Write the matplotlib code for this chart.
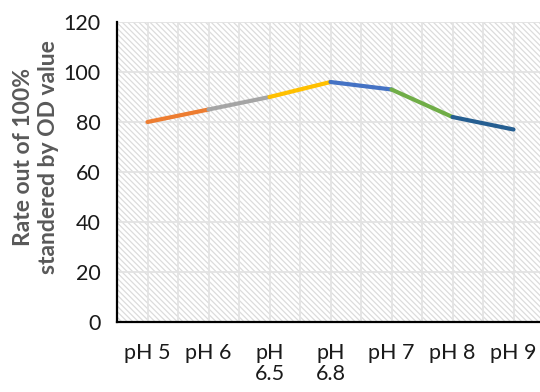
import matplotlib
matplotlib.use('Agg')
from matplotlib import pyplot as plt
from matplotlib.patches import Rectangle

# DATA
categories = ['pH 5', 'pH 6', 'pH\n6.5', 'pH\n6.8', 'pH 7', 'pH 8', 'pH 9']
rate = [80, 85, 90, 96, 93, 82, 77]
y_ticks = [0, 20, 40, 60, 80, 100, 120]

# STYLE
SEGMENT_COLORS = ['#ED7D31', '#A5A5A5', '#FFC000', '#4472C4', '#70AD47', '#255E91']
GRID = '#E3E3E3'
HATCH = '#DCDCDC'
plt.rcParams['font.family'] = ['Lato', 'DejaVu Sans']
plt.rcParams['hatch.linewidth'] = 0.9

fig = plt.figure(figsize=(5.4, 3.92), dpi=100)
ax = fig.add_axes([117 / 540, 70 / 392, 427 / 540, 300 / 392])

# hatched plot background
ax.add_patch(Rectangle((0, 0), 1, 1, transform=ax.transAxes, fill=False,
                       hatch='\\' * 6, edgecolor=HATCH, linewidth=0, zorder=0.2))

x = list(range(len(categories)))
for i in range(len(x) - 1):
    ax.plot(x[i:i + 2], rate[i:i + 2], color=SEGMENT_COLORS[i], lw=3,
            solid_capstyle='round', zorder=3)

ax.set_xlim(-0.5, len(categories) - 0.5)
ax.set_ylim(0, 120)
ax.set_xticks(x)
ax.set_xticklabels(categories, fontsize=15.5, color='#1a1a1a', linespacing=1.1)
ax.set_xticks([v + 0.5 for v in x[:-1]] + [-0.5], minor=True)
ax.set_yticks(y_ticks)
ax.set_yticklabels([str(v) for v in y_ticks], fontsize=15.5, color='#1a1a1a')
ax.tick_params(axis='both', which='both', length=0)
ax.tick_params(axis='x', pad=15)
ax.tick_params(axis='y', pad=12)

ax.set_axisbelow(True)
ax.grid(True, which='both', color=GRID, lw=1.3)

for side in ['top', 'right']:
    ax.spines[side].set_visible(False)
for side in ['left', 'bottom']:
    ax.spines[side].set_linewidth(1.6)
    ax.spines[side].set_color('black')

ax.set_ylabel('Rate out of 100%\nstandered by OD value', fontsize=16.5,
              fontweight='bold', color='#595959', linespacing=1.25)
ax.yaxis.set_label_coords((59 - 117) / 427, (322 - 157) / 300)

fig.savefig('out.png', dpi=100)
